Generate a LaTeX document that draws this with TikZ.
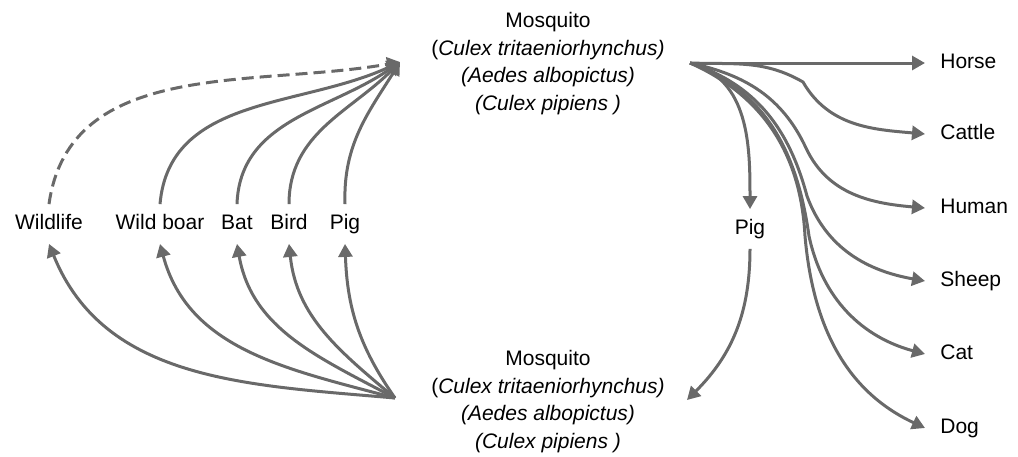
\documentclass[tikz,border=0pt]{standalone}
\usepackage{fontspec}
\setmainfont{Liberation Sans}
\usetikzlibrary{arrows.meta}
\definecolor{linkgray}{RGB}{105,105,105}
\tikzset{
  link/.style={draw=linkgray,line width=1.5pt,-{Triangle[length=6.5pt,width=7pt]}},
  maybe/.style={dash pattern=on 6pt off 3pt},
  host/.style={inner xsep=1pt,inner ysep=5pt,text height=7.5pt,text depth=2pt},
  sink/.style={anchor=west,inner xsep=7.5pt,text height=7.5pt,text depth=2pt},
  vector/.style={align=center,inner sep=0pt}
}
\begin{document}
\begin{tikzpicture}[x=0.5pt,y=-0.5pt,font=\fontsize{10.5}{13.8}\selectfont]
  \useasboundingbox (0,0) rectangle (1018,456);
  \node[vector,anchor=north] (mtop) at (548,12) {Mosquito\\(\textit{Culex tritaeniorhynchus)}\\\textit{(Aedes albopictus)}\\\textit{(Culex pipiens )}};
  \node[vector,anchor=north] (mbot) at (548,350) {Mosquito\\(\textit{Culex tritaeniorhynchus)}\\\textit{(Aedes albopictus)}\\\textit{(Culex pipiens )}};
  \coordinate (tin) at (400,62);
  \coordinate (tout) at (690,63);
  \coordinate (bout) at (395,398);
  \coordinate (bin) at (687,400);

  \node[host] (wildlife) at (49,224) {Wildlife};
  \node[host] (boar) at (160,224) {Wild boar};
  \node[host] (bat) at (237,224) {Bat};
  \node[host] (bird) at (289,224) {Bird};
  \node[host] (pigL) at (345,224) {Pig};
  \node[host] (pigR) at (750,229) {Pig};

  \node[sink] (horse) at (925,63) {Horse};
  \node[sink] (cattle) at (925,134) {Cattle};
  \node[sink] (human) at (925,208) {Human};
  \node[sink] (sheep) at (925,281) {Sheep};
  \node[sink] (cat) at (925,354) {Cat};
  \node[sink] (dog) at (925,428) {Dog};

  \draw[link,maybe] (wildlife.north) to[out=82,in=190] (tin);
  \draw[link] (boar.north) to[out=85,in=205] (tin);
  \draw[link] (bat.north) to[out=88,in=215] (tin);
  \draw[link] (bird.north) to[out=90,in=225] (tin);
  \draw[link] (pigL.north) to[out=92,in=238] (tin);

  \draw[link] (bout) to[out=175,in=-68] (wildlife.south);
  \draw[link] (bout) to[out=165,in=-75] (boar.south);
  \draw[link] (bout) to[out=152,in=-80] (bat.south);
  \draw[link] (bout) to[out=140,in=-84] (bird.south);
  \draw[link] (bout) to[out=125,in=-88] (pigL.south);

  \draw[link] (tout) to[out=-15,in=90] (pigR.north);
  \draw[link] (pigR.south) to[out=-90,in=45] (bin);

  \draw[link] (tout) -- (horse.west);
  \draw[link] (tout) to[out=-2,in=150] (803,82) to[out=-60,in=175] (cattle.west);
  \draw[link] (tout) to[out=-12,in=115] (806,148) to[out=-65,in=175] (human.west);
  \draw[link] (tout) to[out=-18,in=105] (807,196) to[out=-70,in=170] (sheep.west);
  \draw[link] (tout) to[out=-20,in=98] (809,236) to[out=-78,in=165] (cat.west);
  \draw[link] (tout) to[out=-24,in=93] (805,236) to[out=-85,in=155] (dog.west);
\end{tikzpicture}
\end{document}
